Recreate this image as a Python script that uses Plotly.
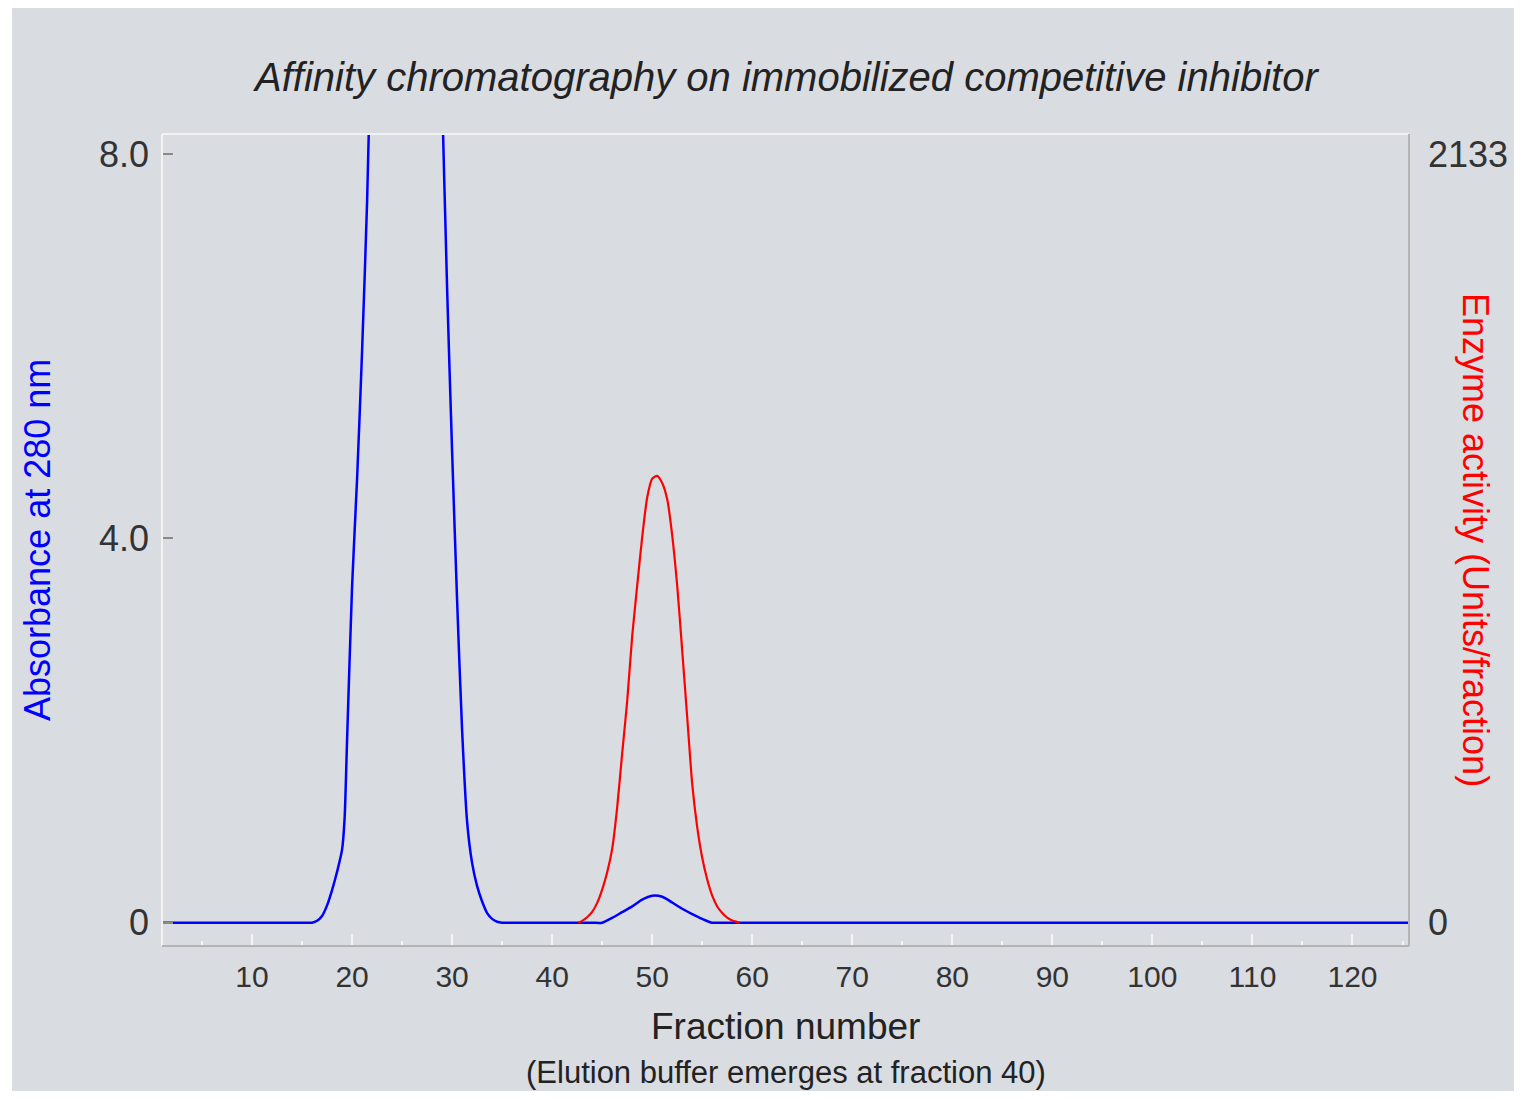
import plotly.graph_objects as go

# ---------------- data ----------------
# Absorbance at 280 nm (blue trace), sampled at the fractions listed
abs_fractions = [1, 2, 15, 16, 16.5, 17, 17.5, 18, 18.5, 19, 19.25, 19.5, 20,
                 20.5, 21, 21.5, 22, 23, 24, 25, 26, 27, 28, 28.5, 29, 29.5,
                 30, 30.5, 31, 31.5, 32, 32.5, 33, 33.5, 34, 34.5, 35, 36,
                 44, 45, 46, 47, 48, 49, 50, 51, 52, 53, 54, 55, 56, 57,
                 125, 126]
absorbance = [0, 0, 0, 0, 0.02, 0.07, 0.18, 0.34, 0.53, 0.76, 1.08, 1.9,
              3.5, 4.62, 5.95, 7.5, 9.6, 12.5, 14.5, 15.2, 15.0, 14.0, 12.3,
              10.6, 8.6, 6.6, 4.9, 3.35, 2.0, 1.05, 0.62, 0.38, 0.22, 0.10,
              0.04, 0.01, 0, 0,
              0, 0, 0.05, 0.11, 0.17, 0.24, 0.28, 0.27, 0.21, 0.145, 0.09,
              0.04, 0, 0,
              0, 0]

# Enzyme activity (red trace), Units/fraction
activity_fractions = [42.6, 43, 43.5, 44, 44.5, 45, 45.5, 46, 46.5, 47, 47.5,
                      48, 48.5, 49, 49.5, 50, 50.5, 51, 51.5, 52, 52.5, 53,
                      53.5, 54, 54.5, 55, 55.5, 56, 56.5, 57, 57.5, 58, 58.5,
                      58.75]
activity_units = [0, 5, 15, 30, 55, 92, 140, 205, 320, 470, 615, 795, 935,
                  1070, 1180, 1232, 1240, 1220, 1175, 1075, 935, 755, 570,
                  385, 265, 180, 120, 75, 45, 27, 14, 6, 2, 0]

x_tick_values = [10, 20, 30, 40, 50, 60, 70, 80, 90, 100, 110, 120]
y_tick_values = [0, 4.0, 8.0]
y_tick_labels = ["0", "4.0", "8.0"]
y2_tick_values = [0, 2133]
y2_tick_labels = ["0", "2133"]

title_text = "Affinity chromatography on immobilized competitive inhibitor"
x_title = "Fraction number"
x_subtitle = "(Elution buffer emerges at fraction 40)"
y_title = "Absorbance at 280 nm"
y2_title = "Enzyme activity (Units/fraction)"

# ---------------- layout geometry ----------------
W, H = 1506, 1083
L, R, T, B = 154, 105, 126, 145
PW, PH = W - L - R, H - T - B
BG = "#d9dce1"
FONT = "Liberation Sans, Arial, Helvetica, sans-serif"

def px(x):
    return (x - L) / PW

def py(y):
    return (T + PH - y) / PH

y_range = [-0.2425, 8.208]
scale2 = y2_tick_values[1] / y_tick_values[2]
y2_range = [y_range[0] * scale2, y_range[1] * scale2]

fig = go.Figure()
fig.add_trace(go.Scatter(
    x=abs_fractions, y=absorbance, mode="lines",
    line=dict(color="#0000ff", width=2.5, shape="spline", smoothing=0.7),
    hoverinfo="skip", showlegend=False))
fig.add_trace(go.Scatter(
    x=activity_fractions, y=activity_units, mode="lines", yaxis="y2",
    line=dict(color="#ff0000", width=2.2, shape="spline", smoothing=0.6),
    hoverinfo="skip", showlegend=False))

fig.update_layout(
    width=W, height=H,
    margin=dict(l=L, r=R, t=T, b=B, pad=0, autoexpand=False),
    paper_bgcolor=BG, plot_bgcolor=BG,
    font=dict(family=FONT, color="#333333"),
    showlegend=False,
    xaxis=dict(
        range=[1.0, 125.65], showgrid=False, zeroline=False, showline=False,
        automargin=False,
        tickmode="array", tickvals=x_tick_values,
        ticks="inside", ticklen=12, tickwidth=2, tickcolor="#f4f4f4",
        minor=dict(ticks="inside", ticklen=5, tickwidth=2, tickcolor="#f4f4f4",
                   tickmode="linear", tick0=5, dtick=10, showgrid=False),
        tickfont=dict(size=30, color="#333333", family=FONT),
        ticklabelstandoff=10,
    ),
    yaxis=dict(
        range=y_range, showgrid=False, zeroline=False, showline=False,
        automargin=False,
        tickmode="array", tickvals=y_tick_values, ticktext=y_tick_labels,
        ticks="inside", ticklen=11, tickwidth=1.5, tickcolor="#8a8a8a",
        tickfont=dict(size=36, color="#333333", family=FONT),
        ticklabelstandoff=12,
    ),
    yaxis2=dict(
        range=y2_range, overlaying="y", side="right",
        showgrid=False, zeroline=False, showline=False,
        automargin=False,
        tickmode="array", tickvals=y2_tick_values, ticktext=y2_tick_labels,
        ticks="",
        tickfont=dict(size=36, color="#333333", family=FONT),
        ticklabelstandoff=18,
    ),
    shapes=[
        # white margin strip at the far left of the page
        dict(type="rect", xref="paper", yref="paper", x0=px(0), x1=px(4),
             y0=py(H), y1=py(0), fillcolor="white", line=dict(width=0),
             layer="below"),
        # frame: light top/left, grey right/bottom
        dict(type="line", xref="paper", yref="paper", x0=0, x1=1, y0=1, y1=1,
             line=dict(color="#f2f2f2", width=2)),
        dict(type="line", xref="paper", yref="paper", x0=0, x1=0, y0=0, y1=1,
             line=dict(color="#f2f2f2", width=2)),
        dict(type="line", xref="paper", yref="paper", x0=1, x1=1, y0=0, y1=1,
             line=dict(color="#b4b4b4", width=2)),
        dict(type="line", xref="paper", yref="paper", x0=0, x1=1, y0=0, y1=0,
             line=dict(color="#b4b4b4", width=2)),
    ],
    annotations=[
        dict(text=title_text, xref="paper", yref="paper", x=0.5, y=py(69),
             xanchor="center", yanchor="middle", showarrow=False,
             font=dict(size=40, color="#222222", family=FONT, style="italic")),
        dict(text=x_title, xref="paper", yref="paper", x=0.5, y=py(1019),
             xanchor="center", yanchor="middle", showarrow=False,
             font=dict(size=37, color="#222222", family=FONT)),
        dict(text=x_subtitle, xref="paper", yref="paper", x=0.5, y=py(1064),
             xanchor="center", yanchor="middle", showarrow=False,
             font=dict(size=31, color="#222222", family=FONT)),
        dict(text=y_title, xref="paper", yref="paper", x=px(29), y=py(532),
             xanchor="center", yanchor="middle", showarrow=False, textangle=-90,
             font=dict(size=36, color="#0000ff", family=FONT)),
        dict(text=y2_title, xref="paper", yref="paper", x=px(1468), y=py(532),
             xanchor="center", yanchor="middle", showarrow=False, textangle=90,
             font=dict(size=36, color="#ff0000", family=FONT)),
    ],
)

fig.write_html("out.html")
